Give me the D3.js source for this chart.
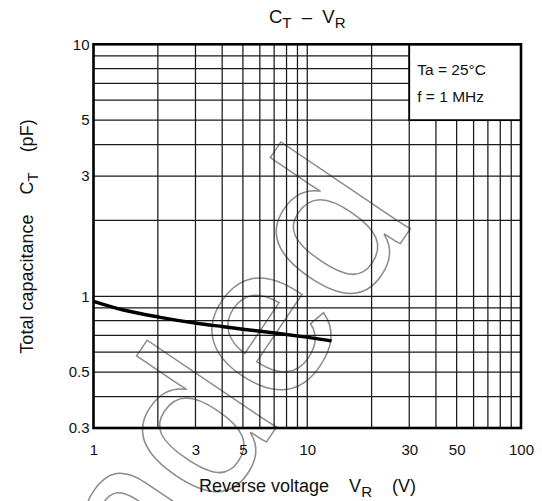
<!DOCTYPE html>
<html>
<head>
<meta charset="utf-8">
<script src="https://cdn.jsdelivr.net/npm/d3@7"></script>
<style>
  body { margin: 0; background: #fff; }
  text { font-family: "Liberation Sans", Arial, sans-serif; fill: #111; }
</style>
</head>
<body>
<script>
// C_T - V_R curve
var voltage     = [1, 1.38, 2.05, 3.04, 4.05, 5.0, 7.2, 9.9, 13.0];
var capacitance = [0.955, 0.882, 0.825, 0.781, 0.757, 0.740, 0.713, 0.688, 0.665];

var xTicks = [1, 3, 5, 10, 30, 50, 100];
var yTicks = [0.3, 0.5, 1, 3, 5, 10];
var xGrid = [2, 3, 4, 5, 6, 7, 8, 9, 10, 20, 30, 40, 50, 60, 70, 80, 90];
var yGrid = [0.4, 0.5, 0.6, 0.7, 0.8, 0.9, 1, 2, 3, 4, 5, 6, 7, 8, 9];
var notes = ['Ta = 25°C', 'f = 1 MHz'];

var W = 542, H = 501;
var margin = {top: 44.3, right: 21, bottom: 73, left: 93.5};
var w = W - margin.left - margin.right,
    h = H - margin.top - margin.bottom;

var svg = d3.select('body').append('svg')
    .attr('width', W)
    .attr('height', H);

var x = d3.scaleLog().domain([1, 100]).range([0, w]);
var y = d3.scaleLog().domain([0.3, 10]).range([h, 0]);

// watermark, sits under everything
svg.append('text')
    .attr('transform', 'translate(418,217) rotate(-56)')
    .attr('text-anchor', 'end')
    .style('font-size', '215px')
    .style('fill', 'none')
    .style('stroke', '#8c8c8c')
    .style('stroke-width', 1.5)
    .text('Recommended');

var g = svg.append('g')
    .attr('transform', 'translate(' + margin.left + ',' + margin.top + ')');

// grid
g.selectAll('.vgrid').data(xGrid).enter().append('line')
    .attr('x1', d => x(d)).attr('x2', d => x(d))
    .attr('y1', 0).attr('y2', h)
    .attr('stroke', '#1a1a1a').attr('stroke-width', 1.25);

g.selectAll('.hgrid').data(yGrid).enter().append('line')
    .attr('x1', 0).attr('x2', w)
    .attr('y1', d => y(d)).attr('y2', d => y(d))
    .attr('stroke', '#1a1a1a').attr('stroke-width', 1.25);

// curve
var line = d3.line()
    .x(d => x(d[0]))
    .y(d => y(d[1]))
    .curve(d3.curveMonotoneX);

g.append('path')
    .datum(d3.zip(voltage, capacitance))
    .attr('d', line)
    .attr('fill', 'none')
    .attr('stroke', '#000')
    .attr('stroke-width', 3.4);

// condition box (top right, from 30 V / 5 pF up)
g.append('rect')
    .attr('x', x(30)).attr('y', 0)
    .attr('width', w - x(30)).attr('height', y(5))
    .attr('fill', '#fff')
    .attr('stroke', '#000').attr('stroke-width', 1.8);

g.selectAll('.note').data(notes).enter().append('text')
    .attr('x', x(30) + 8)
    .attr('y', (d, i) => 31 + i * 26.5)
    .style('font-size', '15.5px')
    .text(d => d);

// frame
g.append('rect')
    .attr('width', w).attr('height', h)
    .attr('fill', 'none')
    .attr('stroke', '#000').attr('stroke-width', 2.6);

// axes, tick labels only
var xAxis = d3.axisBottom(x).tickValues(xTicks).tickSize(0).tickPadding(16).tickFormat(d3.format('~g'));
var yAxis = d3.axisLeft(y).tickValues(yTicks).tickSize(0).tickPadding(4).tickFormat(d3.format('~g'));

g.append('g').attr('transform', 'translate(0,' + h + ')').call(xAxis)
    .call(s => s.select('.domain').remove())
    .selectAll('text').style('font-size', '15px').attr('fill', '#111')
    .style('font-family', '"Liberation Sans", Arial, sans-serif');

g.append('g').call(yAxis)
    .call(s => s.select('.domain').remove())
    .selectAll('text').style('font-size', '15px').attr('fill', '#111')
    .style('font-family', '"Liberation Sans", Arial, sans-serif');

// title
var title = svg.append('text')
    .attr('x', margin.left + w / 2)
    .attr('y', 23)
    .attr('text-anchor', 'middle')
    .style('font-size', '18.5px')
    .style('white-space', 'pre')
    .attr('xml:space', 'preserve');
title.append('tspan').text('C');
title.append('tspan').attr('dy', 5).style('font-size', '15px').text('T');
title.append('tspan').attr('dy', -5).text('  –  V');
title.append('tspan').attr('dy', 5).style('font-size', '15px').text('R');

// x label
var xl = svg.append('text')
    .attr('x', 307.5)
    .attr('y', 492)
    .attr('text-anchor', 'middle')
    .style('font-size', '18px')
    .style('white-space', 'pre')
    .attr('xml:space', 'preserve');
xl.append('tspan').text('Reverse voltage    V');
xl.append('tspan').attr('dy', 5).style('font-size', '15px').text('R');
xl.append('tspan').attr('dy', -5).text('    (V)');

// y label
var yl = svg.append('text')
    .attr('transform', 'translate(33,236.5) rotate(-90)')
    .attr('text-anchor', 'middle')
    .style('font-size', '18px')
    .style('white-space', 'pre')
    .attr('xml:space', 'preserve');
yl.append('tspan').text('Total capacitance    C');
yl.append('tspan').attr('dy', 5).style('font-size', '15px').text('T');
yl.append('tspan').attr('dy', -5).text('    (pF)');
</script>
</body>
</html>
